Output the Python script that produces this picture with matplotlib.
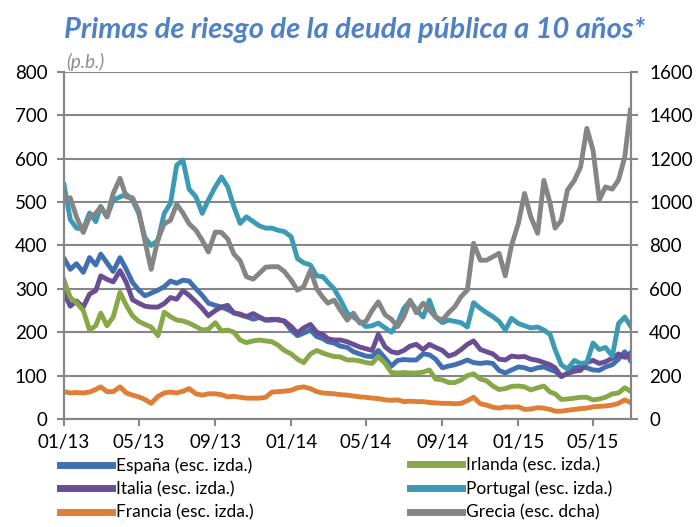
import datetime as dt
import matplotlib
matplotlib.use("Agg")
import matplotlib.pyplot as plt
import matplotlib.dates as mdates

plt.rcParams['font.family'] = ['Lato', 'DejaVu Sans']

# fechas: dias 1, 11 y 21 de cada mes (ene-2013 a jun-2015) + 30-jun-2015
fechas = [dt.date(a, m, d) for a in (2013, 2014, 2015) for m in range(1, 13)
          for d in (1, 11, 21) if dt.date(a, m, d) < dt.date(2015, 7, 1)]
fechas.append(dt.date(2015, 6, 30))

espana = [370, 345, 358, 338, 372, 355, 380, 360, 340, 372, 345, 315,
          297, 284, 290, 297, 305, 318, 313, 320, 318, 300, 285, 267,
          262, 258, 252, 245, 240, 236, 230, 234, 228, 228, 230, 225,
          205, 192, 198, 205, 190, 185, 178, 175, 168, 165, 155, 150,
          145, 144, 158, 140, 122, 135, 137, 136, 136, 150, 148, 138,
          118, 122, 125, 130, 136, 130, 128, 130, 128, 112, 106, 113,
          120, 118, 113, 118, 120, 114, 110, 98, 105, 118, 120, 118,
          113, 112, 120, 125, 138, 155, 135]
irlanda = [320, 280, 268, 250, 205, 215, 244, 215, 235, 292, 262, 238,
           225, 218, 212, 192, 246, 236, 228, 226, 221, 213, 205, 207,
           222, 203, 205, 200, 182, 176, 180, 182, 180, 178, 170, 158,
           150, 138, 130, 150, 158, 152, 148, 144, 143, 136, 136, 134,
           130, 128, 144, 128, 107, 106, 107, 106, 106, 108, 113, 92,
           90, 84, 84, 90, 100, 104, 92, 88, 76, 68, 70, 75,
           76, 74, 67, 72, 76, 62, 58, 45, 46, 48, 50, 50,
           44, 46, 50, 58, 60, 72, 64]
italia = [290, 260, 272, 258, 288, 296, 330, 322, 316, 342, 315, 275,
          267, 260, 258, 258, 266, 280, 276, 296, 285, 270, 255, 238,
          250, 258, 262, 244, 242, 236, 243, 235, 228, 230, 228, 226,
          213, 198, 210, 218, 200, 195, 185, 182, 182, 178, 172, 166,
          162, 158, 195, 166, 155, 152, 158, 168, 172, 160, 172, 165,
          158, 145, 150, 160, 172, 180, 160, 155, 150, 138, 136, 145,
          143, 144, 138, 135, 130, 125, 118, 98, 105, 110, 112, 130,
          135, 128, 132, 140, 150, 142, 152]
portugal = [540, 460, 440, 438, 475, 455, 490, 466, 505, 512, 518, 505,
            474, 418, 400, 412, 474, 497, 585, 597, 530, 512, 474, 505,
            535, 558, 535, 489, 451, 466, 455, 445, 440, 440, 435, 432,
            420, 370, 360, 355, 330, 328, 315, 300, 275, 244, 235, 225,
            213, 215, 221, 210, 200, 221, 255, 272, 252, 235, 274, 235,
            222, 228, 225, 222, 212, 268, 255, 245, 236, 225, 205, 232,
            220, 215, 210, 212, 205, 195, 160, 125, 115, 135, 128, 130,
            175, 160, 165, 145, 220, 235, 215]
francia = [63, 60, 61, 60, 62, 68, 74, 63, 63, 74, 60, 55,
           51, 45, 36, 52, 60, 62, 60, 64, 70, 58, 55, 58,
           58, 56, 51, 52, 50, 48, 48, 48, 50, 62, 63, 64,
           66, 72, 74, 70, 63, 60, 59, 58, 56, 55, 53, 51,
           50, 48, 47, 44, 43, 44, 40, 41, 40, 40, 38, 37,
           36, 36, 35, 36, 42, 50, 35, 32, 27, 25, 28, 27,
           28, 22, 23, 26, 25, 22, 18, 18, 20, 22, 24, 25,
           28, 29, 30, 32, 36, 44, 38]
grecia = [1010, 1020, 932, 860, 932, 948, 978, 932, 1040, 1110, 1024, 1020,
          960, 820, 690, 830, 900, 916, 990, 950, 900, 870, 824, 770,
          862, 860, 830, 760, 730, 656, 645, 672, 700, 702, 702, 680,
          640, 594, 610, 686, 600, 560, 534, 548, 502, 456, 488, 442,
          450, 500, 540, 480, 460, 426, 472, 548, 490, 534, 502, 470,
          456, 490, 518, 564, 594, 810, 732, 732, 748, 764, 660, 800,
          902, 1040, 932, 856, 1100, 994, 880, 916, 1056, 1100, 1162, 1340,
          1240, 1010, 1070, 1060, 1102, 1208, 1424]

izda = [("España (esc. izda.)", espana, "#4170B0"),
        ("Italia (esc. izda.)", italia, "#6A4E94"),
        ("Francia (esc. izda.)", francia, "#E07E36"),
        ("Irlanda (esc. izda.)", irlanda, "#86A847"),
        ("Portugal (esc. izda.)", portugal, "#3D9AB4")]

fig = plt.figure(figsize=(6.96, 5.27), dpi=100)
ax = fig.add_axes([0.092, 0.205, 0.8146, 0.6584])
ax2 = ax.twinx()

lineas = []
for nombre, serie, color in izda:
    l, = ax.plot(fechas, serie, color=color, lw=3.5, label=nombre,
                 solid_joinstyle='round')
    lineas.append(l)
lg, = ax2.plot(fechas, grecia, color="#858585", lw=3.5,
               label="Grecia (esc. dcha)", solid_joinstyle='round')
lineas.append(lg)

gris = "#868686"
ax.set_ylim(0, 800)
ax.set_yticks(range(0, 801, 100))
ax2.set_ylim(0, 1600)
ax2.set_yticks(range(0, 1601, 200))
ax.set_xlim(dt.date(2013, 1, 1), dt.date(2015, 7, 1))
ax.xaxis.set_major_locator(mdates.MonthLocator(bymonth=[1, 5, 9]))
ax.xaxis.set_major_formatter(mdates.DateFormatter("%m/%y"))

ax.grid(axis='y', color=gris, lw=1.5)
ax.set_axisbelow(True)
for a in (ax, ax2):
    a.spines['top'].set_visible(False)
    for s in ('left', 'right', 'bottom'):
        a.spines[s].set_color(gris)
        a.spines[s].set_linewidth(1.5)
    a.tick_params(colors=gris, labelcolor='black', labelsize=13.5, width=1.5,
                  length=5)
ax.tick_params(axis='y', pad=7)
ax.tick_params(axis='x', pad=6)
ax2.tick_params(axis='y', pad=8)

fig.text(0.51, 0.943, "Primas de riesgo de la deuda pública a 10 años*",
         ha='center', va='center', fontsize=21, fontweight='bold',
         style='italic', color="#4F81C6")
fig.text(0.095, 0.882, "(p.b.)", ha='left', va='center', fontsize=13.5,
         style='italic', color="#8C8C8C")

kw = dict(loc='upper left', frameon=False, fontsize=12.5, handlelength=3.0,
          handletextpad=0.25, labelspacing=0.42, borderaxespad=0,
          borderpad=0)
leg1 = fig.legend(handles=lineas[:3], bbox_to_anchor=(0.086, 0.132), **kw)
leg2 = fig.legend(handles=lineas[3:], bbox_to_anchor=(0.589, 0.132), **kw)
for lgd in (leg1, leg2):
    for h in lgd.legend_handles:
        h.set_linewidth(5)

fig.savefig("out.png", dpi=100)
